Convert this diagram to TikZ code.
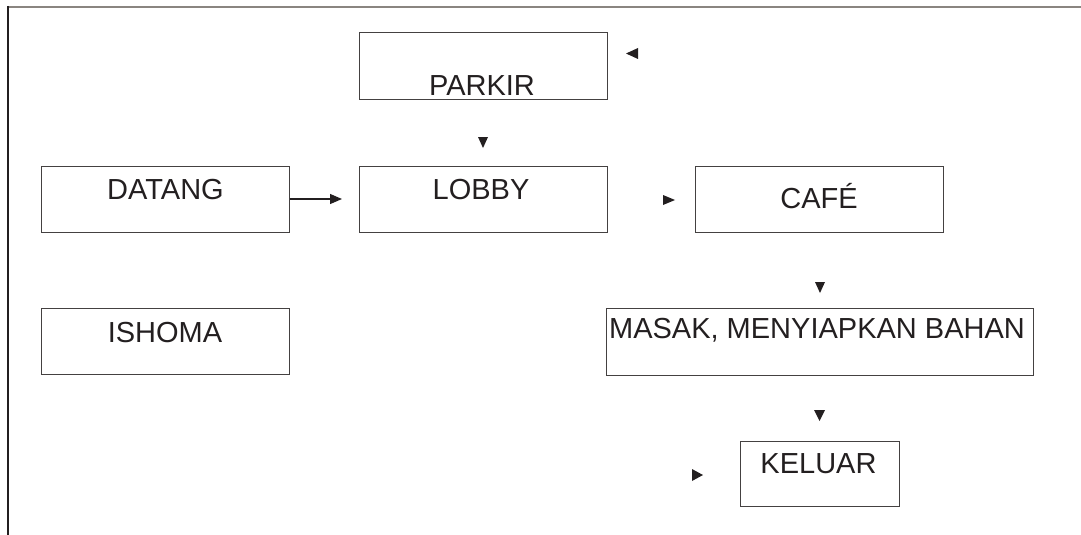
\documentclass[tikz,border=0pt]{standalone}
\usepackage{fontspec}
\setmainfont{Liberation Sans}
\usetikzlibrary{arrows.meta}
\definecolor{ink}{HTML}{231F20}
\definecolor{rule}{HTML}{8A8580}
\begin{document}
\begin{tikzpicture}[x=1pt,y=-1pt,
  box/.style={draw=ink!85,line width=1pt,inner sep=0pt,minimum width=#1,minimum height=66pt},
  box/.default=248pt,
  lbl/.style={text=ink,inner sep=0pt,font=\fontsize{29}{33}\selectfont},
  flow/.style={draw=ink,line width=1.2pt,-{Triangle[length=12pt,width=10pt]}}]
  \useasboundingbox (0,0) rectangle (1081,535);
  % page frame
  \draw[rule,line width=2pt] (8,7) -- (1081,7);
  \draw[ink,line width=1.6pt] (8,6) -- (8,535);

  % boxes
  \node[box] (parkir) at (483,66) {};
  \node[box] (datang) at (165,199.5) {};
  \node[box] (lobby)  at (483,199.5) {};
  \node[box] (cafe)   at (819,199.5) {};
  \node[box] (ishoma) at (165,341.5) {};
  \node[box=427pt,minimum height=67pt] (masak) at (819.5,341.5) {};
  \node[box=159pt,minimum height=65pt] (keluar) at (819.5,473.5) {};

  % labels
  \node[lbl] (tparkir) at (482,86) {PARKIR};
  \node[lbl] (tdatang) at (165.5,190) {DATANG};
  \node[lbl] (tlobby)  at (481,190) {LOBBY};
  \node[lbl,anchor=base] (tcafe) at (819,208) {CAF\'E};
  \node[lbl] (tishoma) at (165,333) {ISHOMA};
  \node[lbl] (tmasak)  at (817,330) {MASAK, MENYIAPKAN BAHAN};
  \node[lbl] (tkeluar) at (818.5,464) {KELUAR};

  % connector
  \draw[flow] (datang.east |- 0,199) -- (342,199) coordinate (lobbyin);

  % loose arrowheads
  \fill[ink] (638,48) -- (638,59) -- (626,53.5) -- cycle;
  \fill[ink] (478,137) -- (488,137) -- (483,148) -- cycle;
  \fill[ink] (663,195) -- (663,205) -- (675,200) -- cycle;
  \fill[ink] (815,282) -- (825,282) -- (820,293) -- cycle;
  \fill[ink] (814,410) -- (825,410) -- (819.5,421) -- cycle;
  \fill[ink] (692,469) -- (692,481) -- (703,475) -- cycle;
\end{tikzpicture}
\end{document}
